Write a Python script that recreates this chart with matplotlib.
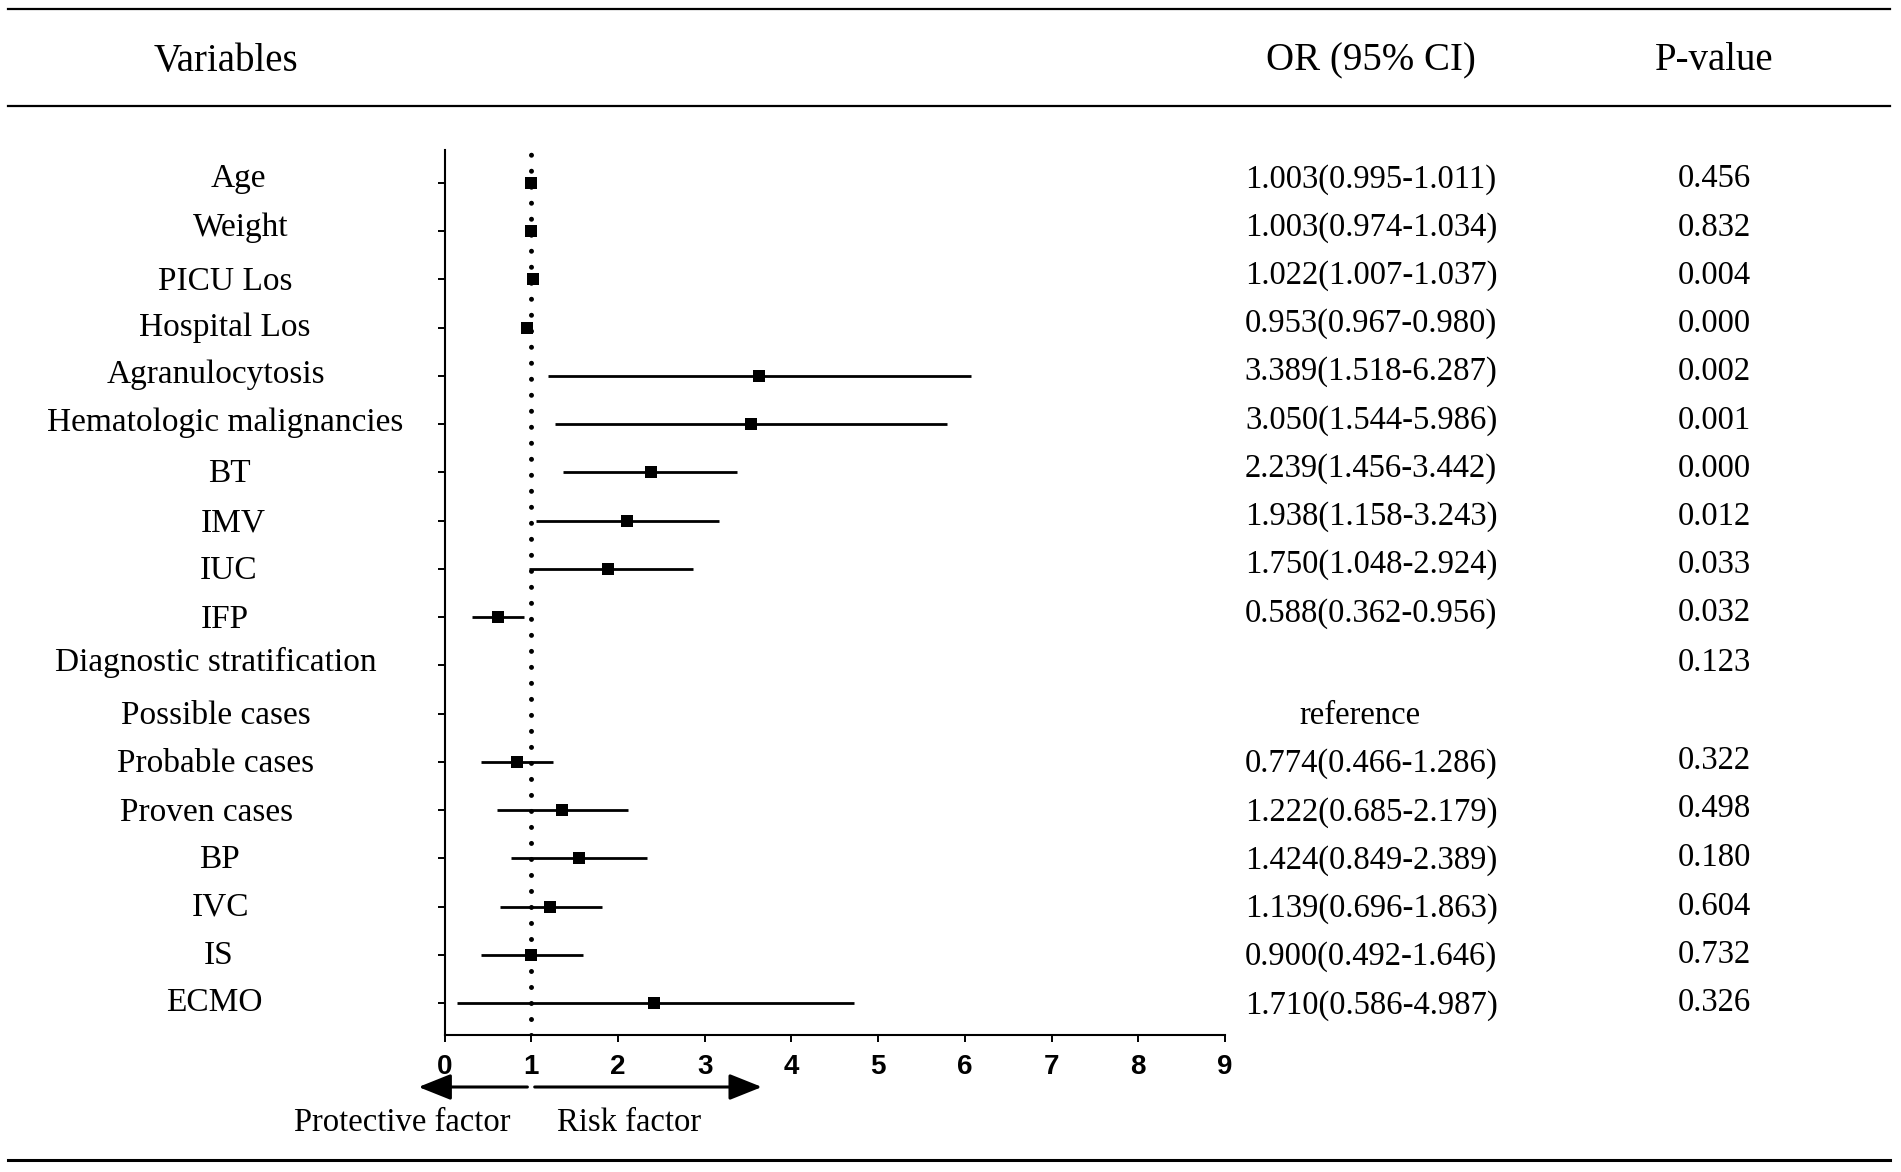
import numpy as np
import matplotlib
matplotlib.use("Agg")
import matplotlib.pyplot as plt
from matplotlib.lines import Line2D
from matplotlib.transforms import blended_transform_factory

# ---------------- data ----------------
variables = ["Age", "Weight", "PICU Los", "Hospital Los", "Agranulocytosis",
             "Hematologic malignancies", "BT", "IMV", "IUC", "IFP",
             "Diagnostic stratification", "Possible cases", "Probable cases",
             "Proven cases", "BP", "IVC", "IS", "ECMO"]
or_est = [1.00, 1.00, 1.02, 0.95, 3.63, 3.53, 2.38, 2.10, 1.89, 0.62,
          np.nan, np.nan, 0.84, 1.35, 1.55, 1.22, 1.00, 2.42]
ci_low = [0.995, 0.974, 1.007, 0.94, 1.19, 1.27, 1.37, 1.06, 0.98, 0.32,
          np.nan, np.nan, 0.42, 0.60, 0.77, 0.64, 0.42, 0.14]
ci_high = [1.011, 1.034, 1.037, 0.96, 6.07, 5.79, 3.37, 3.16, 2.86, 0.92,
           np.nan, np.nan, 1.25, 2.12, 2.33, 1.82, 1.60, 4.72]
or_text = ["1.003(0.995-1.011)", "1.003(0.974-1.034)", "1.022(1.007-1.037)",
           "0.953(0.967-0.980)", "3.389(1.518-6.287)", "3.050(1.544-5.986)",
           "2.239(1.456-3.442)", "1.938(1.158-3.243)", "1.750(1.048-2.924)",
           "0.588(0.362-0.956)", "", "reference", "0.774(0.466-1.286)",
           "1.222(0.685-2.179)", "1.424(0.849-2.389)", "1.139(0.696-1.863)",
           "0.900(0.492-1.646)", "1.710(0.586-4.987)"]
p_text = ["0.456", "0.832", "0.004", "0.000", "0.002", "0.001", "0.000",
          "0.012", "0.033", "0.032", "0.123", "", "0.322", "0.498", "0.180",
          "0.604", "0.732", "0.326"]
x_ticks = [0, 1, 2, 3, 4, 5, 6, 7, 8, 9]
headers = ["Variables", "OR (95% CI)", "P-value"]

# ---------------- layout (pixels of a 1901x1172 canvas) ----------------
W, H = 1901, 1172
label_x_px = [238, 241, 225, 225, 216, 225, 229, 233, 229, 225,
              216, 216, 216, 207, 219, 220, 219, 214]
# vertical nudges of the texts relative to their row (display px)
label_dy = [-5, -5, 0, -2, -3, -3, -1, 0, 0, 0, -4, 0, 0, 0, -1, -1, -1, -2]
or_dy = [-5, -5, -5, -5, -5, -5, -5, -5, -5, -5, 0, 0, 0, 0, 0, 0, 0, 0]
p_dy = [-5, -5, -5, -5, -5, -5, -5, -5, -5, -5, -4, 0, -3, -3, -2, -2, -2, -2]
row_px = 39.8
serif = ["Liberation Serif", "DejaVu Serif"]
sans = ["Liberation Sans", "DejaVu Sans"]

fig = plt.figure(figsize=(W / 100, H / 100), dpi=100)
ax_left, ax_right, ax_top, ax_bot = 444.5, 1225, 150, 1035
ax = fig.add_axes([ax_left / W, 1 - ax_bot / H, (ax_right - ax_left) / W,
                   (ax_bot - ax_top) / H])

n = len(variables)
rows = np.arange(n)
ax.set_xlim(0, 9)
ax.set_ylim(n - 1 + 0.663, -0.684)

# reference line at OR = 1
ax.axvline(1, color="black", lw=3.6, linestyle=(0, (0.001, 3.2)),
           dash_capstyle="round", zorder=1)

est = np.array(or_est)
lo = np.array(ci_low)
hi = np.array(ci_high)
ax.hlines(rows, lo, hi, color="black", lw=2.0, zorder=2)
ax.plot(est, rows, linestyle="none", marker="s", markersize=8.5,
        color="black", markeredgewidth=0, zorder=3)

for s in ["top", "right"]:
    ax.spines[s].set_visible(False)
for s in ["left", "bottom"]:
    ax.spines[s].set_linewidth(1.5)
ax.set_yticks(rows)
ax.set_yticklabels([])
ax.tick_params(axis="y", direction="out", length=4.8, width=1.4)
ax.set_xticks(x_ticks)
ax.set_xticklabels([str(t) for t in x_ticks], fontfamily=sans,
                   fontweight="bold", fontsize=20)
ax.tick_params(axis="x", direction="out", length=5, width=1.4, pad=9)

# ---------------- text columns ----------------
tr = blended_transform_factory(fig.transFigure, ax.transData)


def off(d):
    return (d + 1.8) / row_px


for i in range(n):
    ax.text(label_x_px[i] / W, rows[i] + off(label_dy[i]), variables[i],
            transform=tr, ha="center", va="center", fontsize=24, family=serif)
    if or_text[i]:
        cx = 1360 if or_text[i] == "reference" else 1371
        ax.text(cx / W, rows[i] + off(or_dy[i]), or_text[i], transform=tr,
                ha="center", va="center", fontsize=23.5, family=serif)
    if p_text[i]:
        ax.text(1714 / W, rows[i] + off(p_dy[i]), p_text[i], transform=tr,
                ha="center", va="center", fontsize=23.5, family=serif)

header_x = [226, 1371, 1714]
for hx, ht in zip(header_x, headers):
    fig.text(hx / W, 1 - 61 / H, ht, ha="center", va="center",
             fontsize=28, family=serif)

# horizontal rules
for y_px, lw in [(9, 1.6), (106, 1.6), (1160, 2.2)]:
    fig.add_artist(Line2D([8 / W, 1890 / W], [1 - y_px / H, 1 - y_px / H],
                          color="black", lw=lw, transform=fig.transFigure))

# direction arrows
arrow_y = 1 - 1087 / H
aprops = dict(arrowstyle="-|>,head_length=1.0,head_width=0.4",
              mutation_scale=20, lw=2.2, color="black",
              shrinkA=0, shrinkB=0)
ax.annotate("", xy=(-0.30, arrow_y), xytext=(0.956, arrow_y),
            xycoords=("data", "figure fraction"),
            textcoords=("data", "figure fraction"),
            arrowprops=aprops, annotation_clip=False)
ax.annotate("", xy=(3.66, arrow_y), xytext=(1.04, arrow_y),
            xycoords=("data", "figure fraction"),
            textcoords=("data", "figure fraction"),
            arrowprops=aprops, annotation_clip=False)
fig.text(402 / W, 1 - 1123 / H, "Protective factor", ha="center",
         va="center", fontsize=23.5, family=serif)
fig.text(629 / W, 1 - 1123 / H, "Risk factor", ha="center",
         va="center", fontsize=23.5, family=serif)

fig.savefig("out.png", dpi=100, facecolor="white")
